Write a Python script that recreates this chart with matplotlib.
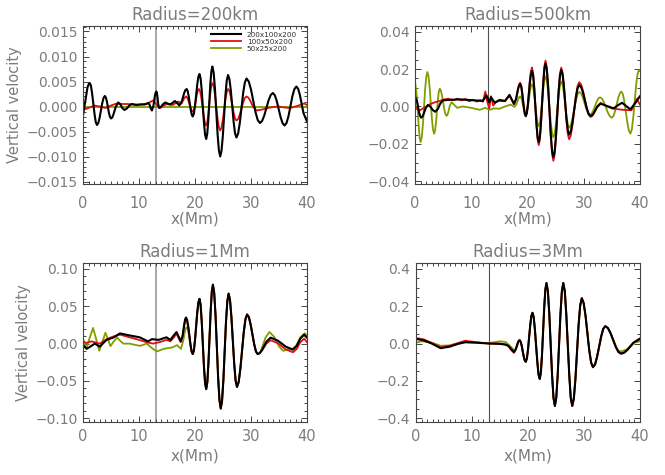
import matplotlib
matplotlib.use('Agg')
import matplotlib.pyplot as plt
from matplotlib.ticker import MultipleLocator, FuncFormatter

# ---------------- data (x in Mm, vertical velocity) ----------------
LABELS = ['200x100x200', '100x50x200', '50x25x200']
TITLES = ['Radius=200km', 'Radius=500km', 'Radius=1Mm', 'Radius=3Mm']
X_TICKS = [0, 10, 20, 30, 40]
MARK_X = 13

# Panel 1 : Radius = 200 km
P1_BLACK = [(0, -0.0018), (0.4, 0.0010), (0.8, 0.0038), (1.2, 0.0047), (1.63, 0.0026), (2.07, -0.0016),
            (2.5, -0.0037), (2.97, -0.00225), (3.43, 0.00065), (3.9, 0.0021), (4.27, 0.00098), (4.63, -0.00128),
            (5.0, -0.0024), (5.43, -0.0016), (5.87, 0.0000), (6.3, 0.0008), (6.67, 0.00043), (7.03, -0.00033),
            (7.4, -0.0007), (7.83, -0.0004), (8.27, 0.0002), (8.7, 0.0005), (9.5, 0.0003), (10.3, 0.0004),
            (11.0, 0.0004), (11.7, 0.0007), (11.9, 0.0003), (12.1, -0.0004), (12.3, -0.0008), (12.57, 0.00015),
            (12.83, 0.0021), (13.1, 0.0030), (13.27, 0.00218), (13.43, 0.0005), (13.6, -0.0003), (13.97, 0.0000),
            (14.33, 0.0005), (14.7, 0.0008), (15.1, 0.0006), (15.5, 0.0004), (15.95, 0.0007), (16.4, 0.0011),
            (16.8, 0.0007), (17.2, 0.0002), (17.63, 0.0010), (18.07, 0.0027), (18.5, 0.0035), (18.87, 0.0021),
            (19.23, -0.0006), (19.6, -0.0020), (20.0, 0.0001), (20.4, 0.0044), (20.8, 0.0065), (21.2, 0.00325),
            (21.6, -0.00325), (22.0, -0.0065), (22.37, -0.0029), (22.73, 0.0044), (23.1, 0.0080), (23.57, 0.0035),
            (24.03, -0.0055), (24.5, -0.0100), (24.97, -0.0059), (25.43, 0.0022), (25.9, 0.0063), (26.4, 0.0032),
            (26.9, -0.0031), (27.4, -0.0062), (28.0, -0.0033), (28.6, 0.0027), (29.2, 0.0056), (30.0, 0.0034),
            (30.8, -0.0011), (31.6, -0.0033), (32.37, -0.0018), (33.13, 0.0012), (33.9, 0.0027), (34.6, 0.0011),
            (35.3, -0.0022), (36.0, -0.0038), (36.7, -0.0019), (37.4, 0.0021), (38.1, 0.0040), (38.73, 0.0023),
            (39.37, -0.0013), (40.0, -0.0030)]
P1_BLACK_ROUND = [(1.0, 0.0044), (1.42, 0.00414), (2.28, -0.00314), (2.73, -0.00331), (3.67, 0.00171),
                  (4.08, 0.0018), (4.82, -0.0021), (5.22, -0.00219), (12.97, 0.00275), (13.18, 0.00278),
                  (18.28, 0.00328), (18.68, 0.00313), (19.42, -0.00163), (19.8, -0.00143), (20.6, 0.00593),
                  (21.0, 0.00563), (21.8, -0.00563), (22.18, -0.00553), (22.92, 0.00703), (23.33, 0.00679),
                  (24.27, -0.00879), (24.73, -0.00891), (25.67, 0.00521), (26.15, 0.00546), (27.15, -0.00536),
                  (27.7, -0.00541), (28.9, 0.00481), (29.6, 0.0050), (31.2, -0.0027), (31.98, -0.0029),
                  (33.52, 0.0023), (34.25, 0.00226), (35.65, -0.00336), (36.35, -0.00328), (37.75, 0.00348),
                  (38.42, 0.00353)]
P1_RED = [(0, -0.0002), (0.5, -0.0005), (1.2, -0.0002), (2.0, 0.0002), (3.0, 0.0000), (4.0, -0.0003),
          (5.0, 0.0002), (6.0, 0.0006), (7.0, 0.0005), (8.0, 0.0005), (9.0, 0.0004), (10.0, 0.0004),
          (11.0, 0.0005), (11.5, 0.0006), (12.0, 0.0009), (12.5, 0.0012), (13.0, 0.0006), (13.4, 0.0000),
          (13.8, -0.0003), (14.4, 0.0002), (15.0, 0.0005), (16.0, 0.0003), (17.0, 0.0010), (17.6, 0.0006),
          (18.0, 0.0015), (18.4, 0.0020), (18.8, 0.00125), (19.2, -0.00025), (19.6, -0.0010), (19.97, 0.00012),
          (20.33, 0.0024), (20.7, 0.0035), (21.13, 0.0017), (21.57, -0.0020), (22.0, -0.0038), (22.37, -0.0017),
          (22.73, 0.0026), (23.1, 0.0047), (23.57, 0.0023), (24.03, -0.0024), (24.5, -0.0048), (24.97, -0.0027),
          (25.43, 0.0014), (25.9, 0.0035), (26.4, 0.0019), (26.9, -0.0012), (27.4, -0.0028), (28.0, -0.0016),
          (28.6, 0.0008), (29.2, 0.0020), (29.8, 0.0013), (30.4, -0.0001), (31.0, -0.0008), (32.0, -0.0006),
          (33.0, -0.0003), (34.0, -0.0001), (35.0, 0.0000), (36.0, -0.0002), (37.0, -0.0003), (38.5, 0.0002),
          (39.5, 0.0006), (40, 0.0003)]
P1_RED_ROUND = [(18.27, 0.0019), (18.6, 0.0018), (19.4, -0.0008), (19.78, -0.0007), (20.52, 0.0032),
                (20.92, 0.0030), (21.78, -0.0033), (22.18, -0.0032), (22.92, 0.0041), (23.33, 0.0041),
                (24.27, -0.0042), (24.73, -0.0042), (25.67, 0.0029), (26.15, 0.0031), (27.15, -0.0024),
                (27.7, -0.0025), (28.9, 0.0017), (29.5, 0.0018)]
P1_GREEN = [(0, 0.0), (10, 0.0), (20, 0.0), (30, 0.0), (40, 0.0)]

# Panel 2 : Radius = 500 km
P2_BLACK = [(0, 0.0054), (0.37, 0.0026), (0.73, -0.0032), (1.1, -0.006), (1.5, -0.0043), (1.9, -0.0009),
            (2.3, 0.0008), (2.73, -0.0001), (3.17, -0.0019), (3.6, -0.0028), (4.07, -0.0013), (4.53, 0.0018),
            (5.0, 0.0033), (6.5, 0.0036), (8.0, 0.0038), (9.5, 0.0035), (11.0, 0.0032), (12.0, 0.0030),
            (12.4, 0.0045), (12.7, 0.006), (13.2, 0.0023), (13.5, 0.005), (14.2, 0.0020), (15.0, 0.0035),
            (16.0, 0.0030), (16.8, 0.0062), (17.6, 0.0014), (17.97, 0.004), (18.33, 0.0094), (18.7, 0.012),
            (19.03, 0.0077), (19.37, -0.0009), (19.7, -0.0052), (20.07, 0.0009), (20.43, 0.0130), (20.8, 0.019),
            (21.2, 0.0095), (21.6, -0.0095), (22.0, -0.019), (22.4, -0.0085), (22.8, 0.0125), (23.2, 0.023),
            (23.67, 0.0105), (24.13, -0.0145), (24.6, -0.027), (25.07, -0.0154), (25.53, 0.0079), (26.0, 0.0195),
            (26.47, 0.0109), (26.93, -0.0064), (27.4, -0.015), (28.0, -0.0084), (28.6, 0.0049), (29.2, 0.0115),
            (29.87, 0.0074), (30.53, -0.0009), (31.2, -0.005), (31.8, -0.0034), (32.4, -0.0001), (33.0, 0.0015),
            (34.1, 0.0003), (35.3, -0.001), (36.0, 0.0005), (36.8, 0.002), (37.5, 0.0003), (38.3, -0.0015),
            (39.2, 0.002), (40, 0.0055)]
P2_BLACK_ROUND = [(0.92, -0.0052), (1.3, -0.0055), (18.52, 0.0113), (18.87, 0.0108), (19.53, -0.0041),
                  (19.88, -0.0036), (20.62, 0.0174), (21.0, 0.0165), (21.8, -0.0165), (22.2, -0.0162),
                  (23.0, 0.0202), (23.43, 0.0197), (24.37, -0.0237), (24.83, -0.0239), (25.77, 0.0164),
                  (26.23, 0.0172), (27.17, -0.0127), (27.7, -0.0132), (28.9, 0.0097), (29.53, 0.0104),
                  (30.87, -0.0039), (31.5, -0.0046)]
P2_RED = [(0, -0.0003), (0.45, -0.0015), (0.9, -0.002), (1.8, -0.0003), (2.7, 0.0013), (3.5, 0.0022),
          (4.4, 0.003), (5.2, 0.0038), (5.9, 0.0042), (6.5, 0.0036), (7.0, 0.0035), (7.5, 0.0042),
          (8.2, 0.0033), (9.0, 0.004), (9.6, 0.0028), (10.3, 0.0036), (11.0, 0.0026), (11.6, 0.0034),
          (12.1, 0.0025), (12.5, 0.0080), (12.8, 0.0030), (13.2, -0.0010), (13.5, 0.0055), (13.9, 0.0005),
          (14.4, 0.0025), (15.0, 0.0030), (16.0, 0.0028), (16.8, 0.0058), (17.6, 0.0012), (17.97, 0.0041),
          (18.33, 0.0098), (18.7, 0.0127), (19.03, 0.0083), (19.37, -0.0006), (19.7, -0.005), (20.07, 0.0015),
          (20.43, 0.0144), (20.8, 0.0208), (21.2, 0.0105), (21.6, -0.0103), (22.0, -0.0206), (22.4, -0.0093),
          (22.8, 0.0132), (23.2, 0.0245), (23.67, 0.0111), (24.13, -0.0156), (24.6, -0.029), (25.07, -0.0166),
          (25.53, 0.0084), (26.0, 0.0208), (26.47, 0.0112), (26.93, -0.0079), (27.4, -0.0175), (28.0, -0.0099),
          (28.6, 0.0054), (29.2, 0.013), (29.87, 0.0084), (30.53, -0.0010), (31.2, -0.0056), (31.8, -0.0037),
          (32.4, 0.0001), (33.0, 0.002), (34.0, 0.0003), (35.0, -0.001), (36.0, -0.0014), (37.0, -0.0018),
          (38.5, -0.002), (39.4, 0.004), (40, 0.001)]
P2_RED_ROUND = [(18.52, 0.0119), (18.87, 0.0115), (19.53, -0.0038), (19.88, -0.0033), (20.62, 0.0191),
                (21.0, 0.018), (21.8, -0.0178), (22.2, -0.0176), (23.0, 0.0215), (23.43, 0.0209), (24.37, -0.0254),
                (24.83, -0.0257), (25.77, 0.0175), (26.23, 0.0182), (27.17, -0.0149), (27.7, -0.0155),
                (28.9, 0.011), (29.53, 0.0118), (30.87, -0.0044), (31.5, -0.0051)]
P2_GREEN = [(0, 0.0135), (0.33, 0.0054), (0.67, -0.0109), (1.0, -0.019), (1.4, -0.0097), (1.8, 0.0091),
            (2.2, 0.0184), (2.6, 0.0102), (3.0, -0.0063), (3.4, -0.0145), (3.73, -0.0085), (4.07, 0.0035),
            (4.4, 0.0095), (4.8, 0.0059), (5.2, -0.0014), (5.6, -0.005), (5.9, -0.0032), (6.2, 0.0005),
            (6.5, 0.0023), (7.0, 0.0008), (7.5, -0.0007), (8.5, 0.0), (10, -0.0007), (11.5, -0.0018),
            (12.5, -0.0007), (13.3, -0.0018), (14, -0.001), (15, -0.0012), (16, 0.0), (17, 0.001),
            (17.7, -0.0002), (18.03, 0.0012), (18.37, 0.004), (18.7, 0.0054), (19.03, 0.003), (19.37, -0.0018),
            (19.7, -0.0042), (20.07, -0.0002), (20.43, 0.0079), (20.8, 0.0119), (21.2, 0.0063), (21.6, -0.0049),
            (22.0, -0.0105), (22.4, -0.0039), (22.8, 0.0094), (23.2, 0.016), (23.67, 0.0079), (24.13, -0.0084),
            (24.6, -0.0165), (25.07, -0.009), (25.53, 0.0059), (26.0, 0.0133), (26.47, 0.0071), (26.93, -0.0052),
            (27.4, -0.0113), (28.0, -0.0065), (28.6, 0.003), (29.2, 0.0078), (29.83, 0.0048), (30.47, -0.0014),
            (31.1, -0.0044), (31.7, -0.0021), (32.3, 0.0026), (32.9, 0.0049), (33.6, 0.0022), (34.3, -0.0033),
            (35.0, -0.006), (35.57, -0.0025), (36.13, 0.0045), (36.7, 0.008), (37.23, 0.0024), (37.77, -0.0089),
            (38.3, -0.0145), (38.8, -0.006), (39.3, 0.011), (39.8, 0.0195), (40, 0.019)]
P2_GREEN_ROUND = [(0.83, -0.0168), (1.2, -0.0165), (2.0, 0.0159), (2.4, 0.0162), (3.2, -0.0123), (3.57, -0.0129),
                  (4.23, 0.0079), (4.6, 0.0085), (5.4, -0.004), (5.75, -0.0045), (18.53, 0.005), (18.87, 0.0048),
                  (19.53, -0.0036), (19.88, -0.0031), (20.62, 0.0108), (21.0, 0.0104), (21.8, -0.009),
                  (22.2, -0.0087), (23.0, 0.0142), (23.43, 0.0138), (24.37, -0.0143), (24.83, -0.0145),
                  (25.77, 0.0113), (26.23, 0.0117), (27.17, -0.0097), (27.7, -0.01), (28.9, 0.0065), (29.52, 0.007),
                  (30.78, -0.0036), (31.4, -0.0038), (32.6, 0.0043), (33.25, 0.0042), (34.65, -0.0053),
                  (35.28, -0.0051), (36.42, 0.0071), (36.97, 0.0065), (38.03, -0.013), (38.55, -0.0122),
                  (39.55, 0.0172)]

# Panel 3 : Radius = 1 Mm (wave packet common to all three runs)
P3_WAVE = [(19.2, -0.0018), (19.4, -0.0107), (19.6, -0.014), (19.8, -0.009), (20.0, 0.0045), (20.4, 0.0415),
           (20.6, 0.055), (20.8, 0.060), (21.0, 0.0519), (21.2, 0.0298), (21.6, -0.0308), (21.8, -0.0529),
           (22.0, -0.061), (22.2, -0.0516), (22.4, -0.026), (22.8, 0.044), (23.0, 0.0696), (23.2, 0.079),
           (23.43, 0.0679), (23.67, 0.0375), (24.13, -0.0455), (24.37, -0.0759), (24.6, -0.087), (24.83, -0.0767),
           (25.07, -0.0485), (25.53, 0.0285), (25.77, 0.0567), (26.0, 0.067), (26.25, 0.0586), (26.5, 0.0358),
           (27.0, -0.0268), (27.25, -0.0496), (27.5, -0.058), (27.8, -0.0515), (28.1, -0.0338), (28.7, 0.0148),
           (29.0, 0.0325), (29.3, 0.039), (29.62, 0.0355), (29.93, 0.0258), (30.57, -0.0008), (30.88, -0.0105),
           (31.2, -0.014), (31.58, -0.0126)]
P3_BLACK_L = [(0, -0.002), (0.65, -0.007), (1.3, -0.004), (2.1, 0.0), (3.0, -0.004), (4.2, 0.005), (5.4, 0.008),
              (6.6, 0.0137), (8.3, 0.011), (10.1, 0.0085), (11.6, 0.003), (12.3, 0.006), (13.5, 0.005),
              (14.9, 0.0085), (15.6, 0.005), (16.2, 0.011), (16.7, 0.0155), (17.1, 0.009), (17.5, 0.003),
              (17.8, 0.011), (18.1, 0.027), (18.25, 0.0329), (18.4, 0.035), (18.6, 0.0317), (18.8, 0.0228)]
P3_BLACK_R = [(31.97, -0.0085), (32.73, 0.0025), (33.5, 0.008), (34.8, 0.004), (36.2, -0.004), (37.5, -0.008),
              (38.17, -0.003), (38.83, 0.007), (39.5, 0.012), (40, 0.008)]
P3_RED_L = [(0, 0.003), (0.6, 0.0008), (1.5, 0.003), (3.0, 0.0), (4.2, 0.006), (5.4, 0.0095), (6.6, 0.012),
            (8.3, 0.0085), (10.0, 0.005), (11.3, 0.002), (12.5, 0.0), (13.7, 0.002), (14.9, 0.005), (15.6, 0.003),
            (16.2, 0.008), (16.7, 0.0135), (17.1, 0.007), (17.4, 0.002), (17.8, 0.010), (18.1, 0.025),
            (18.25, 0.030), (18.4, 0.032), (18.6, 0.029), (18.8, 0.022)]
P3_RED_R = [(31.97, -0.0094), (32.73, -0.0001), (33.5, 0.0045), (34.83, 0.0005), (36.17, -0.0076),
            (37.5, -0.0116), (38.17, -0.007), (38.83, 0.0021), (39.5, 0.0067), (40, 0.002)]
P3_GREEN_L = [(0, 0.006), (0.6, -0.006), (1.2, 0.008), (1.8, 0.021), (2.35, 0.006), (2.9, -0.0096), (3.45, 0.002),
              (4.0, 0.0146), (4.45, 0.006), (4.9, -0.0034), (5.5, 0.003), (6.1, 0.0083), (6.6, 0.004), (7.2, 0.0),
              (8.3, 0.0), (9.5, -0.002), (10.2, -0.003), (11.4, 0.0), (12.3, -0.006), (13.2, -0.0105),
              (14.4, -0.007), (16.0, -0.005), (16.8, -0.002), (17.5, -0.007), (17.9, 0.004), (18.2, 0.016),
              (18.35, 0.0205), (18.5, 0.022), (18.7, 0.020), (18.9, 0.012)]
P3_GREEN_R = [(31.9, -0.0066), (32.6, 0.0082), (33.3, 0.0156), (34.13, 0.0093), (34.97, -0.0035), (35.8, -0.0098),
              (36.5, -0.0075), (37.3, -0.008), (38.07, -0.0025), (38.83, 0.0085), (39.6, 0.014), (40, 0.011)]

# Panel 4 : Radius = 3 Mm (wave packet common to all three runs)
P4_WAVE = [(17.83, -0.03), (18.17, 0.002), (18.33, 0.0137), (18.5, 0.018), (18.68, 0.0102), (18.87, -0.011),
           (19.23, -0.069), (19.42, -0.0902), (19.6, -0.098), (19.8, -0.0804), (20.0, -0.032), (20.4, 0.099),
           (20.6, 0.1474), (20.8, 0.165), (21.02, 0.1412), (21.23, 0.076), (21.67, -0.101), (21.88, -0.1662),
           (22.1, -0.19), (22.3, -0.1555), (22.5, -0.061), (22.9, 0.196), (23.1, 0.2905), (23.3, 0.325),
           (23.55, 0.2808), (23.8, 0.16), (24.3, -0.17), (24.55, -0.2908), (24.8, -0.335), (25.05, -0.2908),
           (25.3, -0.17), (25.8, 0.16), (26.05, 0.2808), (26.3, 0.325), (26.57, 0.2808), (26.83, 0.16),
           (27.37, -0.17), (27.63, -0.2908), (27.9, -0.335), (28.18, -0.2963), (28.47, -0.19), (29.03, 0.0985),
           (29.32, 0.2043), (29.6, 0.243), (29.93, 0.2182), (30.27, 0.15), (30.93, -0.0345), (31.27, -0.1022),
           (31.6, -0.127), (31.97, -0.1123), (32.33, -0.072), (33.07, 0.038), (33.43, 0.0783), (33.8, 0.093)]
P4_BLACK_L = [(0, 0.025), (1.4, 0.017), (2.8, 0.0), (4.4, -0.025), (6.0, -0.017), (7.5, -0.002), (8.8, 0.007),
              (10.5, 0.005), (13.0, 0.0), (15.0, -0.002), (16.0, -0.006), (16.5, -0.012), (17.0, -0.03),
              (17.5, -0.046)]
P4_BLACK_R = [(34.27, 0.0831), (34.73, 0.056), (35.67, -0.018), (36.13, -0.045), (36.6, -0.055), (37.17, -0.0496),
              (37.73, -0.035), (38.87, 0.005), (40, 0.025)]
P4_RED_L = [(0, 0.03), (1.4, 0.022), (2.8, 0.003), (4.4, -0.02), (6.0, -0.012), (7.5, 0.003), (8.8, 0.015),
            (10.5, 0.008), (13.0, 0.0), (15.0, 0.0), (16.0, -0.005), (16.5, -0.015), (17.0, -0.035), (17.5, -0.05)]
P4_RED_R = [(34.27, 0.083), (34.73, 0.056), (35.67, -0.016), (36.13, -0.043), (36.6, -0.052), (37.17, -0.047),
            (37.73, -0.033), (38.87, 0.006), (40, 0.028)]
P4_GREEN_L = [(0, 0.005), (1.0, 0.012), (2.8, 0.005), (4.4, -0.012), (6.0, -0.01), (7.5, 0.0), (8.8, 0.008),
              (10.5, 0.005), (13.0, 0.002), (15.0, 0.012), (16.0, 0.008), (16.7, -0.01), (17.5, -0.035)]
P4_GREEN_R = [(34.27, 0.084), (34.73, 0.058), (35.67, -0.012), (35.95, -0.032), (36.4, -0.042), (36.9, -0.040),
              (37.73, -0.03), (38.87, 0.004), (40, 0.012)]

# ---------------- styling ----------------
TXT = '#7c7c7c'
SPINE = '#444444'
COLORS = ['#000000', '#e01010', '#7f9f00']
plt.rcParams['font.family'] = ['DejaVu Sans']

fig = plt.figure(figsize=(6.65, 4.75), dpi=100)
W, H = 665.0, 475.0


def rect(l, t, r, b):
    return [l / W, 1 - b / H, (r - l) / W, (b - t) / H]


def fmt_func(fmt):
    def f(v, pos):
        if abs(v) < 1e-12:
            v = 0.0
        return (fmt % v).replace('-', '\u2212')
    return FuncFormatter(f)


panels = [
    dict(rect=rect(83, 26, 307, 184), ylim=(-0.0155, 0.0161), step=0.005, minor=0.001, fmt='%.3f',
         series=[P1_BLACK + P1_BLACK_ROUND, P1_RED + P1_RED_ROUND, P1_GREEN], ylabel=True, xpad=8.5,
         vcol='#a8a8a8', vlw=1.4),
    dict(rect=rect(415, 26, 640, 184), ylim=(-0.0414, 0.043), step=0.02, minor=0.005, fmt='%.2f',
         series=[P2_BLACK + P2_BLACK_ROUND, P2_RED + P2_RED_ROUND, P2_GREEN + P2_GREEN_ROUND], ylabel=False,
         xpad=8.5, vcol='#505050', vlw=0.8),
    dict(rect=rect(83, 263, 307, 422), ylim=(-0.105, 0.108), step=0.05, minor=0.01, fmt='%.2f',
         series=[P3_BLACK_L + P3_WAVE + P3_BLACK_R, P3_RED_L + P3_WAVE + P3_RED_R,
                 P3_GREEN_L + P3_WAVE + P3_GREEN_R], ylabel=True, xpad=5, vcol='#a8a8a8', vlw=1.4),
    dict(rect=rect(416, 263, 640, 422), ylim=(-0.421, 0.432), step=0.2, minor=0.05, fmt='%.1f',
         series=[P4_BLACK_L + P4_WAVE + P4_BLACK_R, P4_RED_L + P4_WAVE + P4_RED_R,
                 P4_GREEN_L + P4_WAVE + P4_GREEN_R], ylabel=False, xpad=5, vcol='#505050', vlw=0.8),
]

for i, p in enumerate(panels):
    ax = fig.add_axes(p['rect'])
    handles = [None, None, None]
    widths = [1.5, 1.3, 1.3]
    for k in (2, 1, 0):
        pts = sorted(p['series'][k])
        xs = [pt[0] for pt in pts]
        ys = [pt[1] for pt in pts]
        h, = ax.plot(xs, ys, color=COLORS[k], lw=widths[k], solid_joinstyle='round', label=LABELS[k])
        handles[k] = h
    ax.axvline(MARK_X, color=p['vcol'], lw=p['vlw'], zorder=0)
    ax.set_xlim(0, 40)
    ax.set_ylim(*p['ylim'])
    ax.set_xticks(X_TICKS)
    ax.xaxis.set_minor_locator(MultipleLocator(1))
    ax.yaxis.set_major_locator(MultipleLocator(p['step']))
    ax.yaxis.set_minor_locator(MultipleLocator(p['minor']))
    ax.yaxis.set_major_formatter(fmt_func(p['fmt']))
    ax.tick_params(which='both', direction='in', top=True, right=True, colors=SPINE, labelcolor=TXT,
                   labelsize=10, width=0.7)
    ax.tick_params(which='major', length=4.5)
    ax.tick_params(which='minor', length=2.2)
    ax.tick_params(axis='x', which='both', pad=p['xpad'], labelsize=10.5)
    ax.tick_params(axis='y', which='both', pad=4)
    for s in ax.spines.values():
        s.set_color(SPINE)
        s.set_linewidth(0.8)
    ax.set_title(TITLES[i], color=TXT, fontsize=12, pad=4.5)
    ax.set_xlabel('x(Mm)', color=TXT, fontsize=11, labelpad=0.5 if i < 2 else 3)
    if p['ylabel']:
        ax.set_ylabel('Vertical velocity', color=TXT, fontsize=10.5, labelpad=3)
    if i == 0:
        leg = ax.legend(handles=handles, loc='upper left', bbox_to_anchor=(0.57, 0.965), frameon=False,
                        fontsize=5.2, handlelength=4.2, handletextpad=0.8, labelspacing=0.15, borderpad=0,
                        borderaxespad=0)
        for t in leg.get_texts():
            t.set_color('#303030')

fig.savefig('out.png', dpi=100)
